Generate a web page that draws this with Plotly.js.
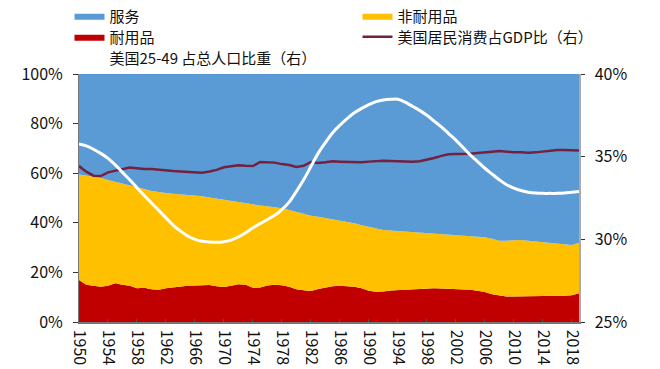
<!DOCTYPE html>
<html>
<head>
<meta charset="utf-8">
<script src="https://cdn.plot.ly/plotly-3.0.1.min.js"></script>
<style>html,body{margin:0;padding:0;background:#fff;}#chart{width:660px;height:369px;}</style>
</head>
<body>
<div id="chart"></div>
<script>
const years = [1950,1951,1952,1953,1954,1955,1956,1957,1958,1959,1960,1961,1962,1963,1964,1965,1966,1967,1968,1969,1970,1971,1972,1973,1974,1975,1976,1977,1978,1979,1980,1981,1982,1983,1984,1985,1986,1987,1988,1989,1990,1991,1992,1993,1994,1995,1996,1997,1998,1999,2000,2001,2002,2003,2004,2005,2006,2007,2008,2009,2010,2011,2012,2013,2014,2015,2016,2017,2018,2019];

const durable = [16.9,15.0,14.6,14.2,14.6,15.6,15.0,14.6,13.6,13.8,13.2,13.0,13.6,14.0,14.3,14.6,14.7,14.8,14.9,14.4,14.1,14.6,15.2,15.0,13.8,13.9,14.7,15.0,14.8,14.2,13.2,12.8,12.5,13.3,14.0,14.4,14.6,14.4,14.2,13.6,12.6,12.2,12.3,12.7,12.9,13.0,13.1,13.3,13.6,13.6,13.5,13.4,13.3,13.2,13.0,12.6,12.1,11.2,10.6,10.3,10.3,10.4,10.5,10.5,10.6,10.6,10.6,10.6,10.8,11.6];

const nondurable = [42.6,44.0,44.0,44.0,42.7,41.0,41.0,40.7,40.9,39.8,39.6,39.3,38.4,37.7,37.2,36.7,36.5,35.9,35.3,35.3,35.1,34.1,33.0,32.7,33.5,33.1,32.0,31.4,31.1,31.0,31.2,30.8,30.3,29.1,27.9,27.0,26.4,26.1,25.6,25.4,25.7,25.4,24.8,24.2,23.8,23.6,23.2,22.7,22.3,22.2,22.1,22.0,21.9,21.8,21.8,21.9,22.1,22.4,22.2,22.5,22.7,22.7,22.3,22.0,21.7,21.3,20.8,20.5,20.2,20.4];

const services = [40.5,41.0,41.4,41.8,42.7,43.4,44.0,44.7,45.5,46.4,47.2,47.7,48.0,48.3,48.5,48.7,48.8,49.3,49.8,50.3,50.8,51.3,51.8,52.3,52.7,53.0,53.3,53.6,54.1,54.8,55.6,56.4,57.2,57.6,58.1,58.6,59.0,59.5,60.2,61.0,61.7,62.4,62.9,63.1,63.3,63.4,63.7,64.0,64.1,64.2,64.4,64.6,64.8,65.0,65.2,65.5,65.8,66.4,67.2,67.2,67.0,66.9,67.2,67.5,67.7,68.1,68.6,68.9,69.0,68.0];

const consumptionGDP = [34.43,34.09,33.85,33.83,34.05,34.15,34.22,34.34,34.30,34.25,34.25,34.20,34.15,34.13,34.11,34.08,34.03,34.03,34.10,34.20,34.36,34.42,34.48,34.45,34.43,34.68,34.66,34.64,34.55,34.50,34.38,34.45,34.68,34.62,34.66,34.72,34.70,34.68,34.65,34.66,34.70,34.74,34.76,34.74,34.72,34.70,34.70,34.72,34.80,34.92,35.05,35.15,35.16,35.16,35.18,35.22,35.24,35.30,35.34,35.30,35.27,35.27,35.24,35.26,35.30,35.38,35.40,35.40,35.38,35.37];

const pop2549 = [35.77,35.65,35.45,35.20,34.90,34.50,34.05,33.60,33.12,32.65,32.20,31.75,31.30,30.85,30.50,30.20,30.00,29.88,29.84,29.82,29.86,29.95,30.15,30.40,30.70,30.95,31.20,31.45,31.80,32.25,32.90,33.60,34.40,35.20,35.85,36.45,36.90,37.30,37.65,37.92,38.15,38.33,38.43,38.47,38.47,38.30,38.05,37.80,37.50,37.15,36.80,36.40,36.00,35.55,35.10,34.70,34.30,33.95,33.60,33.30,33.10,32.95,32.85,32.80,32.78,32.78,32.78,32.80,32.85,32.90];

const tickYears = [1950,1954,1958,1962,1966,1970,1974,1978,1982,1986,1990,1994,1998,2002,2006,2010,2014,2018];
const leftTicks = [0,20,40,60,80,100];
const rightTicks = [25,30,35,40];

const names = {
  services: '服务',
  nondurable: '非耐用品',
  durable: '耐用品',
  cgdp: '美国居民消费占GDP比（右）',
  pop: '美国25-49 占总人口比重（右）'
};

const traces = [
  {x: years, y: durable, name: names.durable, type: 'scatter', mode: 'lines', stackgroup: 'one',
   line: {width: 0, color: '#C00000'}, fillcolor: '#C00000', legend: 'legend2', legendrank: 1},
  {x: years, y: nondurable, name: names.nondurable, type: 'scatter', mode: 'lines', stackgroup: 'one',
   line: {width: 0, color: '#FFC000'}, fillcolor: '#FFC000', legend: 'legend', legendrank: 2},
  {x: years, y: services, name: names.services, type: 'scatter', mode: 'lines', stackgroup: 'one',
   line: {width: 0, color: '#5B9BD5'}, fillcolor: '#5B9BD5', legend: 'legend', legendrank: 1},
  {x: years, y: consumptionGDP, name: names.cgdp, type: 'scatter', mode: 'lines', yaxis: 'y2',
   line: {width: 2.5, color: '#74203F'}, legend: 'legend2', legendrank: 2},
  {x: years, y: pop2549, name: names.pop, type: 'scatter', mode: 'lines', yaxis: 'y2',
   line: {width: 3, color: '#FFFFFF', shape: 'spline'}, legend: 'legend3', legendrank: 1}
];

const fam = '"Noto Sans CJK SC", "Noto Sans", sans-serif';
const font = {family: fam, size: 16, color: '#111'};

function legendRow(yc) {
  return {orientation: 'h', x: -0.019, xanchor: 'left', y: yc, yanchor: 'middle',
          entrywidth: 243, entrywidthmode: 'pixels', font: {size: 15, family: fam, color: '#111'},
          bgcolor: 'rgba(0,0,0,0)', tracegroupgap: 0, itemwidth: 30, traceorder: 'normal'};
}

// legend row centres (px from top): 16, 37, 58 -> paper y = (322 - px) / 248
const layout = {
  width: 660, height: 369,
  margin: {l: 79, r: 81, t: 74, b: 47, autoexpand: false},
  paper_bgcolor: '#fff', plot_bgcolor: '#fff',
  font: font,
  showlegend: true,
  legend: legendRow(1.2339),
  legend2: legendRow(1.1492),
  legend3: legendRow(1.0645),
  xaxis: {range: [1950, 2019], tickvals: tickYears, ticktext: tickYears.map(String), tickangle: 90,
          showgrid: false, zeroline: false, showline: true, linecolor: '#777', linewidth: 1.5,
          ticks: 'inside', ticklen: 3, tickcolor: '#555', tickfont: {size: 16, family: fam, color: '#111'},
          ticklabelstandoff: 3, fixedrange: true},
  yaxis: {range: [0, 100], tickvals: leftTicks, ticktext: leftTicks.map(v => v + '%'), showgrid: false, zeroline: false,
          showline: true, linecolor: '#777', linewidth: 1, ticks: 'outside', ticklen: 5, tickcolor: '#333',
          ticklabelstandoff: 7, tickfont: {size: 16, family: fam, color: '#111'}},
  yaxis2: {range: [25, 40], tickvals: rightTicks, ticktext: rightTicks.map(v => v + '%'), overlaying: 'y', side: 'right',
           showgrid: false, zeroline: false, showline: true, linecolor: '#aaa', linewidth: 1.5,
           ticks: 'outside', ticklen: 4, tickcolor: '#333', ticklabelstandoff: 7,
           tickfont: {size: 16, family: fam, color: '#111'}}
};

Plotly.newPlot('chart', traces, layout, {displayModeBar: false, staticPlot: true});
</script>
</body>
</html>
